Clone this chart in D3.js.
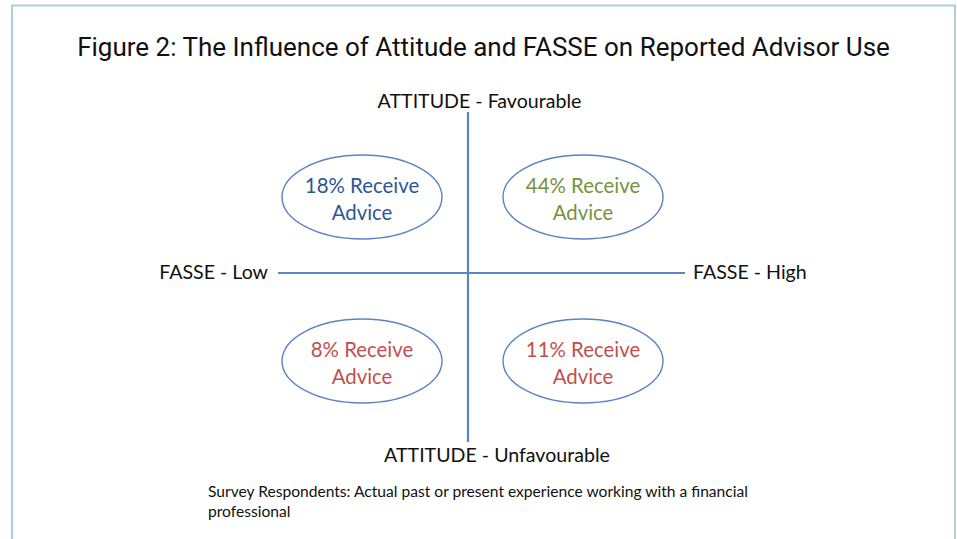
<!DOCTYPE html>
<html>
<head>
<meta charset="utf-8">
<script src="https://cdn.jsdelivr.net/npm/d3@7"></script>
<style>
  html, body { margin: 0; padding: 0; background: #fff; }
  svg { display: block; }
</style>
</head>
<body>
<svg id="chart" width="957" height="539"></svg>
<script>
// ---- data ----
const titleText = "Figure 2: The Influence of Attitude and FASSE on Reported Advisor Use";
const fasseLevels = ["Low", "High"];
const attitudeLevels = ["Favourable", "Unfavourable"];
const quadrantFasse = ["Low", "High", "Low", "High"];
const quadrantAttitude = ["Favourable", "Favourable", "Unfavourable", "Unfavourable"];
const receivePercent = [18, 44, 8, 11];
const footnoteLines = [
  "Survey Respondents: Actual past or present experience working with a financial",
  "professional"
];

// ---- styles ----
const quadrantColor = { "Low|Favourable": "#2c5793", "High|Favourable": "#76923c",
                        "Low|Unfavourable": "#c0504d", "High|Unfavourable": "#c0504d" };
const lineColor = "#5b86c2";
const bodyFont = "Lato, 'Open Sans', sans-serif";

const svg = d3.select("#chart");

// frame
svg.append("path")
  .attr("d", "M12,539 L12,5.5 L955,5.5 L955,539")
  .attr("fill", "none").attr("stroke", "#a9d1dc").attr("stroke-width", 2);

// title
svg.append("text").attr("x", 483.5).attr("y", 56)
  .attr("text-anchor", "middle")
  .style("font-family", "Roboto, sans-serif").style("font-size", "26px").attr("fill", "#111")
  .text(titleText);

// scales
const xAxisScale = d3.scaleLinear().domain([-1, 1]).range([278, 685]);
const yAxisScale = d3.scaleLinear().domain([1, -1]).range([112, 442]);
const xq = d3.scalePoint().domain(fasseLevels).range([362, 583]);
const yq = d3.scalePoint().domain(attitudeLevels).range([197, 361]);
const xCross = 468, yCross = 273;

// axes lines
svg.append("line")
  .attr("x1", xAxisScale(-1)).attr("x2", xAxisScale(1))
  .attr("y1", yCross).attr("y2", yCross)
  .attr("stroke", lineColor).attr("stroke-width", 2.2);
svg.append("line")
  .attr("x1", xCross).attr("x2", xCross)
  .attr("y1", yAxisScale(1)).attr("y2", yAxisScale(-1))
  .attr("stroke", lineColor).attr("stroke-width", 2.2);

// axis labels
const lab = (x, y, anchor, t) => svg.append("text").attr("x", x).attr("y", y)
  .attr("text-anchor", anchor).style("font-family", bodyFont).style("font-size", "19.6px")
  .attr("fill", "#111").text(t);
lab(xCross + 11.5, 108, "middle", "ATTITUDE - " + attitudeLevels[0]);
lab(xCross + 29, 462, "middle", "ATTITUDE - " + attitudeLevels[1]);
lab(xAxisScale(-1) - 10, 279, "end", "FASSE - " + fasseLevels[0]);
lab(xAxisScale(1) + 8, 279, "start", "FASSE - " + fasseLevels[1]);

// quadrants
const quads = receivePercent.map((p, i) => ({ p, f: quadrantFasse[i], a: quadrantAttitude[i] }));
const g = svg.selectAll("g.quad").data(quads).join("g").attr("class", "quad")
  .attr("transform", d => `translate(${xq(d.f)},${yq(d.a)})`);
g.append("ellipse").attr("rx", 80).attr("ry", 42)
  .attr("fill", "none").attr("stroke", "#5b84bf").attr("stroke-width", 1.4);
g.append("text").attr("text-anchor", "middle").attr("y", -4)
  .style("font-family", bodyFont).style("font-size", "20.4px")
  .attr("fill", d => quadrantColor[d.f + "|" + d.a])
  .text(d => d.p + "% Receive");
g.append("text").attr("text-anchor", "middle").attr("y", 23)
  .style("font-family", bodyFont).style("font-size", "20.4px")
  .attr("fill", d => quadrantColor[d.f + "|" + d.a])
  .text("Advice");

// footnote
svg.selectAll("text.foot").data(footnoteLines).join("text").attr("class", "foot")
  .attr("x", 208).attr("y", (d, i) => 497 + i * 20)
  .style("font-family", bodyFont).style("font-size", "15.6px").attr("fill", "#111")
  .text(d => d);
</script>
</body>
</html>
